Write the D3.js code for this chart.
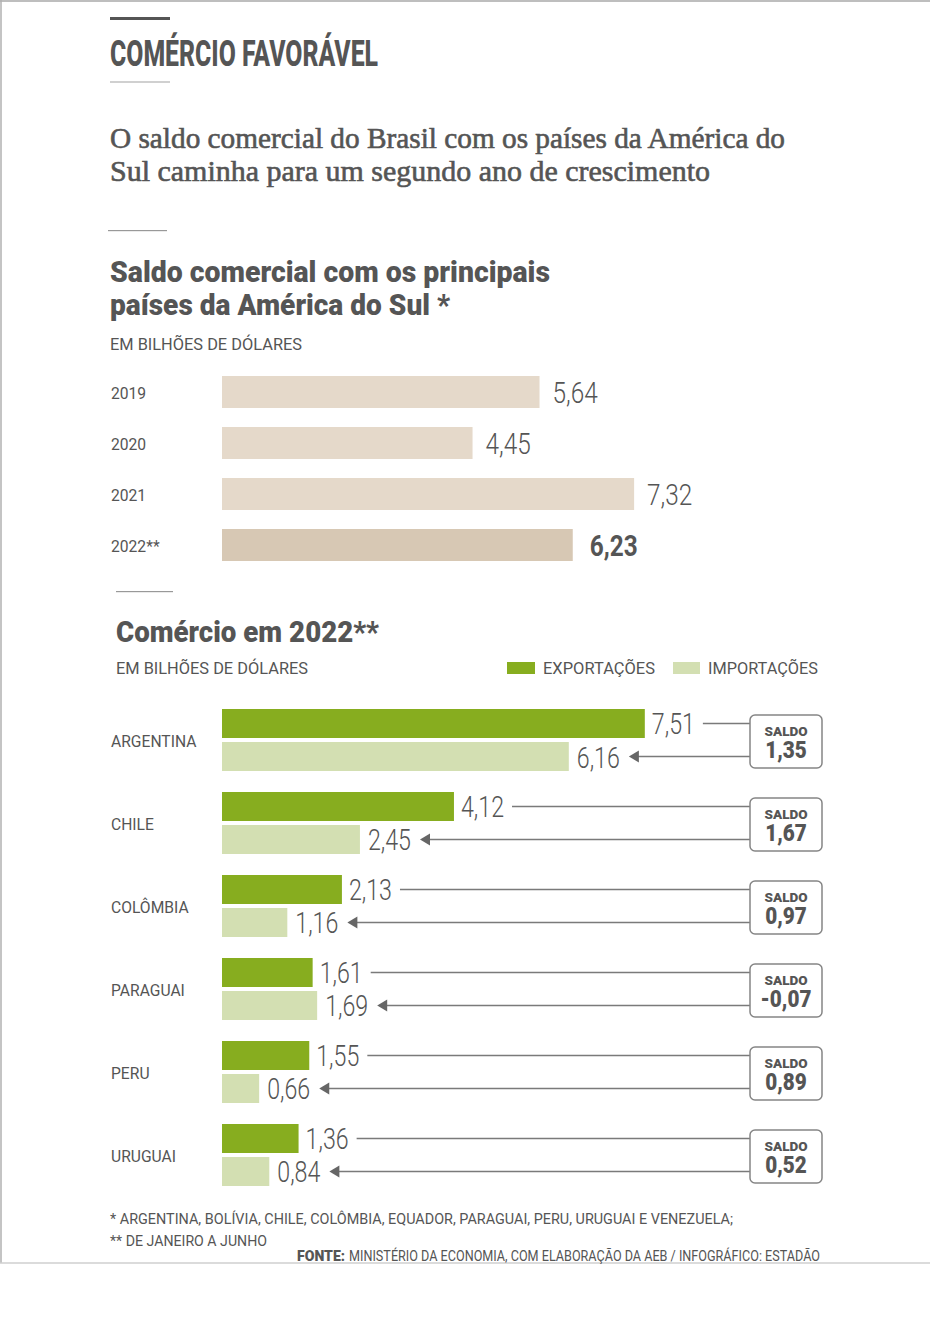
<!DOCTYPE html>
<html><head><meta charset="utf-8">
<script src="https://cdn.jsdelivr.net/npm/d3@7"></script>
<style>body{margin:0;background:#fff} svg{display:block}</style>
</head><body><svg id="c" width="952" height="1332"></svg>
<script>
// ---- data ----
const years = ["2019", "2020", "2021", "2022**"];
const saldoAnual = [5.64, 4.45, 7.32, 6.23];
const countries = ["ARGENTINA", "CHILE", "COLÔMBIA", "PARAGUAI", "PERU", "URUGUAI"];
const exportacoes = [7.51, 4.12, 2.13, 1.61, 1.55, 1.36];
const importacoes = [6.16, 2.45, 1.16, 1.69, 0.66, 0.84];
const saldos = [1.35, 1.67, 0.97, -0.07, 0.89, 0.52];
const legendLabels = ["EXPORTAÇÕES", "IMPORTAÇÕES"];

// ---- setup ----
const svg = d3.select("#c");
const SANS = "Roboto, 'Liberation Sans', sans-serif";
const SERIF = "'Liberation Serif', 'DejaVu Serif', serif";
const TXT = "#555";
const GREEN = "#87ad1f", LGREEN = "#d3dfb2";
const BEIGE = "#e5d9ca", BEIGE2 = "#d7c8b4";
const loc = d3.formatLocale({decimal: ",", thousands: ".", grouping: [3], currency: ["R$", ""], minus: "-"});
const fmt = loc.format(".2f");

function condense(sel, f) {
  sel.each(function () {
    const w = this.getComputedTextLength() * f;
    d3.select(this).attr("textLength", w).attr("lengthAdjust", "spacingAndGlyphs");
    this.__w = w;
  });
  return sel;
}
function txt(x, y, s, size, weight, len, fam) {
  const t = svg.append("text").attr("x", x).attr("y", y).text(s)
    .attr("font-family", fam || SANS).attr("font-size", size)
    .attr("font-weight", weight || 400).attr("fill", TXT);
  if (len) t.attr("textLength", len).attr("lengthAdjust", "spacingAndGlyphs");
  return t;
}

// frame
svg.append("line").attr("x1", 0).attr("x2", 930).attr("y1", 1).attr("y2", 1).attr("stroke", "#a8a8a8").attr("stroke-width", 1.5);
svg.append("line").attr("x1", 1).attr("x2", 1).attr("y1", 0).attr("y2", 1263).attr("stroke", "#b0b0b0").attr("stroke-width", 1.5);
svg.append("line").attr("x1", 0).attr("x2", 930).attr("y1", 1263).attr("y2", 1263).attr("stroke", "#cfcfcf").attr("stroke-width", 1.5);

// header
svg.append("rect").attr("x", 110).attr("y", 17).attr("width", 60).attr("height", 3).attr("fill", "#555");
txt(110, 66, "COMÉRCIO FAVORÁVEL", 36, 800, 268);
svg.append("rect").attr("x", 110).attr("y", 81).attr("width", 60).attr("height", 2).attr("fill", "#d0d0d0");
txt(110, 148, "O saldo comercial do Brasil com os países da América do", 29, 400, 675, SERIF).attr("stroke", TXT).attr("stroke-width", 0.6);
txt(110, 181, "Sul caminha para um segundo ano de crescimento", 29, 400, 600, SERIF).attr("stroke", TXT).attr("stroke-width", 0.6);

svg.append("rect").attr("x", 108).attr("y", 230).attr("width", 59).attr("height", 1.2).attr("fill", "#999");
txt(110, 282, "Saldo comercial com os principais", 30, 900, 440);
txt(110, 315, "países da América do Sul *", 30, 900, 340);
txt(110, 350, "EM BILHÕES DE DÓLARES", 17, 400, 192);

// ---- scales ----
const x = d3.scaleLinear().domain([0, 10]).range([222, 785]);

// ---- chart 1 ----
const yYear = d3.scaleBand().domain(years).range([376, 561]).paddingInner(0.3725);
const g1 = svg.append("g");
const rows1 = years.map((y, i) => ({year: y, v: saldoAnual[i], last: i === years.length - 1}));
g1.selectAll("rect.bar").data(rows1).join("rect").attr("class", "bar")
  .attr("x", x(0)).attr("y", d => yYear(d.year))
  .attr("width", d => x(d.v) - x(0)).attr("height", yYear.bandwidth())
  .attr("fill", d => d.last ? BEIGE2 : BEIGE);
condense(g1.selectAll("text.yr").data(rows1).join("text").attr("class", "yr")
  .attr("x", 111).attr("y", d => yYear(d.year) + yYear.bandwidth() / 2 + 7)
  .attr("font-family", SANS).attr("font-size", 17).attr("fill", TXT).text(d => d.year), 0.92);
condense(g1.selectAll("text.val").data(rows1).join("text").attr("class", "val")
  .attr("x", d => x(d.v) + (d.last ? 17 : 13)).attr("y", d => yYear(d.year) + yYear.bandwidth() / 2 + 11)
  .attr("font-family", SANS).attr("font-size", 29).attr("font-weight", d => d.last ? 700 : 300)
  .attr("fill", TXT).text(d => fmt(d.v)), 0.84);

// ---- chart 2 header ----
svg.append("rect").attr("x", 116).attr("y", 591).attr("width", 57).attr("height", 1.2).attr("fill", "#999");
txt(116, 642, "Comércio em 2022**", 30, 900, 263);
txt(116, 674, "EM BILHÕES DE DÓLARES", 17, 400, 192);
// legend
svg.append("rect").attr("x", 507).attr("y", 662).attr("width", 28).attr("height", 12).attr("fill", GREEN);
txt(543, 674, legendLabels[0], 17, 400, 112);
svg.append("rect").attr("x", 673).attr("y", 662).attr("width", 27).attr("height", 12).attr("fill", LGREEN);
txt(708, 674, legendLabels[1], 17, 400, 110);

// ---- chart 2 ----
const yC = d3.scaleBand().domain(countries).range([709, 1186]).paddingInner(0.253);
const ySub = d3.scaleBand().domain(["exp", "imp"]).range([0, yC.bandwidth()]).paddingInner(0.1212);
const rows2 = countries.map((c, i) => ({c, e: exportacoes[i], m: importacoes[i], s: saldos[i]}));
const BOX_X = 750, BOX_W = 72;

const grp = svg.selectAll("g.country").data(rows2).join("g").attr("class", "country")
  .attr("transform", d => `translate(0,${yC(d.c)})`);

grp.append("rect").attr("x", x(0)).attr("y", ySub("exp")).attr("width", d => x(d.e) - x(0))
  .attr("height", ySub.bandwidth()).attr("fill", GREEN);
grp.append("rect").attr("x", x(0)).attr("y", ySub("imp")).attr("width", d => x(d.m) - x(0))
  .attr("height", ySub.bandwidth()).attr("fill", LGREEN);

condense(grp.append("text").attr("x", 111).attr("y", yC.bandwidth() / 2 + 7)
  .attr("font-family", SANS).attr("font-size", 17).attr("fill", TXT).text(d => d.c), 0.92);

const cy1 = ySub("exp") + ySub.bandwidth() / 2, cy2 = ySub("imp") + ySub.bandwidth() / 2;

grp.each(function (d) {
  const g = d3.select(this);
  const te = g.append("text").attr("x", x(d.e) + 7).attr("y", cy1 + 10)
    .attr("font-family", SANS).attr("font-size", 29).attr("font-weight", 300).attr("fill", TXT).text(fmt(d.e));
  condense(te, 0.8);
  const tm = g.append("text").attr("x", x(d.m) + 8).attr("y", cy2 + 11)
    .attr("font-family", SANS).attr("font-size", 29).attr("font-weight", 300).attr("fill", TXT).text(fmt(d.m));
  condense(tm, 0.8);
  const e1 = x(d.e) + 7 + te.node().__w + 8;
  const m1 = x(d.m) + 8 + tm.node().__w + 9;
  g.append("line").attr("x1", e1).attr("x2", BOX_X).attr("y1", cy1).attr("y2", cy1)
    .attr("stroke", "#7a7a7a").attr("stroke-width", 1.5);
  g.append("line").attr("x1", m1 + 8).attr("x2", BOX_X).attr("y1", cy2).attr("y2", cy2)
    .attr("stroke", "#7a7a7a").attr("stroke-width", 1.5);
  g.append("path").attr("d", `M${m1},${cy2} L${m1 + 10},${cy2 - 6} L${m1 + 10},${cy2 + 6} Z`).attr("fill", "#666");
  g.append("rect").attr("x", BOX_X).attr("y", 6).attr("width", BOX_W).attr("height", 53).attr("rx", 5)
    .attr("fill", "#fff").attr("stroke", "#858585").attr("stroke-width", 1.5);
  g.append("text").attr("x", BOX_X + BOX_W / 2).attr("y", 27).attr("text-anchor", "middle")
    .attr("font-family", SANS).attr("font-size", 13.5).attr("font-weight", 900).attr("fill", TXT).text("SALDO");
  condense(g.append("text").attr("x", BOX_X + BOX_W / 2).attr("y", 49).attr("text-anchor", "middle")
    .attr("font-family", SANS).attr("font-size", 23).attr("font-weight", 900).attr("fill", TXT).text(fmt(d.s)), 0.9);
});

// ---- footnotes ----
txt(110, 1224, "* ARGENTINA, BOLÍVIA, CHILE, COLÔMBIA, EQUADOR, PARAGUAI, PERU, URUGUAI E VENEZUELA;", 15.5, 400, 623);
txt(110, 1246, "** DE JANEIRO A JUNHO", 15.5, 400, 157);
txt(297, 1261, "FONTE:", 15, 900, 48);
txt(349, 1261, "MINISTÉRIO DA ECONOMIA, COM ELABORAÇÃO DA AEB / INFOGRÁFICO: ESTADÃO", 15, 400, 471);
</script></body></html>
